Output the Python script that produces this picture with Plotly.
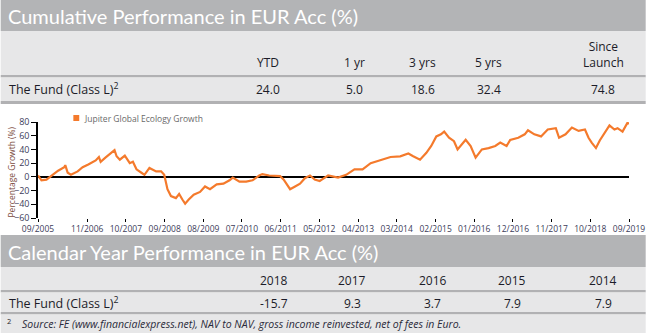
import plotly.graph_objects as go

# ---------------- data ----------------
dates = [
    "2005-09-01", "2005-10-01", "2005-11-13", "2006-01-10", "2006-02-22", "2006-04-16",
    "2006-04-25", "2006-05-16", "2006-06-13", "2006-08-10", "2006-09-22", "2006-11-10",
    "2007-01-13", "2007-02-10", "2007-02-25", "2007-04-07", "2007-06-01", "2007-06-25",
    "2007-07-13", "2007-08-10", "2007-09-22", "2007-11-04", "2007-12-01", "2008-01-01",
    "2008-02-13", "2008-03-10", "2008-04-22", "2008-05-19", "2008-06-19", "2008-08-01",
    "2008-08-28", "2008-09-25", "2008-10-25", "2008-12-07", "2009-01-04", "2009-02-01",
    "2009-02-25", "2009-03-28", "2009-05-10", "2009-07-04", "2009-08-16", "2009-09-28",
    "2009-11-25", "2010-01-22", "2010-03-16", "2010-04-13", "2010-06-10", "2010-08-07",
    "2010-10-01", "2010-11-28", "2010-12-25", "2011-02-22", "2011-04-16", "2011-05-28",
    "2011-06-28", "2011-07-25", "2011-08-22", "2011-10-04", "2011-11-16", "2011-12-28",
    "2012-02-10", "2012-03-22", "2012-05-04", "2012-05-22", "2012-07-16", "2012-10-10",
    "2012-12-19", "2013-03-01", "2013-05-10", "2013-07-19", "2013-10-13", "2014-01-07",
    "2014-04-01", "2014-06-10", "2014-07-22", "2014-09-19", "2014-11-13", "2014-12-25",
    "2015-02-07", "2015-03-19", "2015-04-16", "2015-05-28", "2015-07-10", "2015-08-10",
    "2015-10-19", "2015-12-01", "2016-01-13", "2016-03-07", "2016-05-04", "2016-07-01",
    "2016-08-13", "2016-10-07", "2016-11-07", "2017-01-16", "2017-03-13", "2017-04-10",
    "2017-06-04", "2017-08-01", "2017-09-28", "2017-12-07", "2018-01-04", "2018-03-01",
    "2018-04-25", "2018-06-22", "2018-08-16", "2018-09-16", "2018-10-13", "2018-11-19",
    "2018-12-22", "2019-02-04", "2019-03-16", "2019-04-28", "2019-05-25", "2019-07-07",
    "2019-08-19", "2019-09-01",
]
growth = [
    2, -5, -4, 3, 9, 14,
    17, 6, 3, 8, 14, 18,
    24, 29, 22, 28, 35, 39,
    30, 25, 31, 20, 22, 11,
    6, 3, 13, 11, 8, 8,
    3, -18, -28, -31, -25, -33,
    -39, -33, -26, -22, -14, -18,
    -11, -10, -5, -1, -7, -7,
    -5, 2, 4, 2, 1, 1,
    -4, -11, -18, -14, -10, -2,
    2, -4, -6, -4, 2, -1,
    3, 11, 11, 20, 24, 29,
    30, 34, 30, 25, 35, 45,
    59, 62, 66, 57, 52, 40,
    54, 45, 28, 40, 42, 45,
    50, 45, 54, 57, 62, 68,
    62, 59, 69, 71, 57, 62,
    72, 67, 69, 57, 50, 42,
    53, 64, 75, 69, 71, 66,
    79, 77,
]
series_name = "Jupiter Global Ecology Growth"

tick_dates = ["2005-09-01", "2006-11-01", "2007-10-01", "2008-09-01", "2009-08-01",
              "2010-07-01", "2011-06-01", "2012-05-01", "2013-04-01", "2014-03-01",
              "2015-02-01", "2016-01-01", "2016-12-01", "2017-11-01", "2018-10-01",
              "2019-09-01"]
tick_labels = ["09/2005", "11/2006", "10/2007", "09/2008", "08/2009", "07/2010",
               "06/2011", "05/2012", "04/2013", "03/2014", "02/2015", "01/2016",
               "12/2016", "11/2017", "10/2018", "09/2019"]
y_ticks = [-60, -40, -20, 0, 20, 40, 60, 80]

cum_title = "Cumulative Performance in EUR Acc (%)"
cum_periods = ["YTD", "1 yr", "3 yrs", "5 yrs", "Since<br>Launch"]
cum_values = [24.0, 5.0, 18.6, 32.4, 74.8]

cal_title = "Calendar Year Performance in EUR Acc (%)"
cal_years = ["2018", "2017", "2016", "2015", "2014"]
cal_values = [-15.7, 9.3, 3.7, 7.9, 7.9]

fund_label = "The Fund (Class L)<sup>2</sup>"
footnote = "Source: FE (www.financialexpress.net), NAV to NAV, gross income reinvested, net of fees in Euro."

# ---------------- layout geometry (pixels) ----------------
W, H = 657, 333
L, R, T, B = 38, 640, 122, 218


def px(x):
    return (x - L) / (R - L)


def py(y):
    return (B - y) / (B - T)


HEAD = "#b3b4b6"
LIGHT = "#e7e7e8"
SEP = "#b1b1b3"
TXT = "#1c1c28"
ORANGE = "#f47a2c"
FONT = "Open Sans"
HFONT = "Lato"

fig = go.Figure()
fig.add_trace(go.Scatter(
    x=dates, y=growth, mode="lines", name=series_name,
    line=dict(color=ORANGE, width=2.2), showlegend=False,
))

shapes = []


def band(y0, y1, color):
    shapes.append(dict(type="rect", xref="paper", yref="paper",
                       x0=px(0), x1=px(W), y0=py(y1), y1=py(y0),
                       fillcolor=color, line=dict(width=0), layer="below"))


band(0, 31, HEAD)
band(31, 75, LIGHT)
band(75, 77.5, SEP)
band(77.5, 101, LIGHT)
band(101, 104, SEP)
band(235, 267, HEAD)
band(267, 290, LIGHT)
band(290, 292.5, SEP)
band(292.5, 312, LIGHT)
band(312, 314.5, SEP)
band(314.5, 333, LIGHT)

# legend square
shapes.append(dict(type="rect", xref="paper", yref="paper",
                   x0=px(74), x1=px(80), y0=py(121), y1=py(115),
                   fillcolor=ORANGE, line=dict(width=0)))

ann = []


def text(x, y, s, size=12, color=TXT, xanchor="center", yanchor="middle", family=FONT, **kw):
    ann.append(dict(x=px(x), y=py(y), xref="paper", yref="paper", text=s,
                    showarrow=False, xanchor=xanchor, yanchor=yanchor,
                    font=dict(size=size, color=color, family=family), **kw))


# Cumulative table
text(5, 16, cum_title, size=20, color="white", xanchor="left", family=HFONT)
cum_x = [272, 360, 430, 497, 614]
for cx, lab in zip(cum_x, cum_periods):
    text(cx, 73, lab, size=12, yanchor="bottom")
for cx, v in zip(cum_x, cum_values):
    text(cx, 89, f"{v:.1f}", size=12)
text(6, 89, fund_label, size=12.5, xanchor="left")

# Calendar table
text(5, 252, cal_title, size=20, color="white", xanchor="left", family=HFONT)
cal_x = [278, 358, 440, 521, 614]
for cx, lab in zip(cal_x, cal_years):
    text(cx, 280, lab, size=12)
for cx, v in zip(cal_x, cal_values):
    text(cx, 303, f"{v:.1f}", size=12)
text(6, 303, fund_label, size=12.5, xanchor="left")

# footnote
text(4, 321, "2", size=7.5, xanchor="left")
text(20, 324, f"<i>{footnote}</i>", size=10.5, xanchor="left", color="#2a2a3a")

# legend text & axis title
text(83, 118, series_name, size=8.5, xanchor="left", color="#6a6a6a")
text(11, 172, "Percentage Growth (%)", size=8.5, color="#7a4a3c", textangle=-90)

fig.update_layout(
    width=W, height=H,
    margin=dict(l=L, r=W - R, t=T, b=H - B, pad=0),
    paper_bgcolor="white", plot_bgcolor="white",
    shapes=shapes, annotations=ann,
    font=dict(family=FONT),
    showlegend=False,
)
fig.update_xaxes(
    type="date", range=["2005-09-01", "2019-09-01"],
    tickvals=tick_dates, ticktext=tick_labels,
    ticks="outside", ticklen=3, tickcolor="black", tickwidth=1,
    showline=False, showgrid=False, zeroline=False,
    tickfont=dict(size=8.5, color="#3c3c5a"),
)
fig.update_yaxes(
    range=[-60, 80], tickvals=y_ticks,
    ticks="outside", ticklen=5, tickcolor="black", tickwidth=1,
    showline=True, linecolor="black", linewidth=1.5,
    showgrid=False, zeroline=True, zerolinecolor="black", zerolinewidth=1.5,
    tickfont=dict(size=9, color="#3c3c5a"),
)

fig.write_html("out.html")
